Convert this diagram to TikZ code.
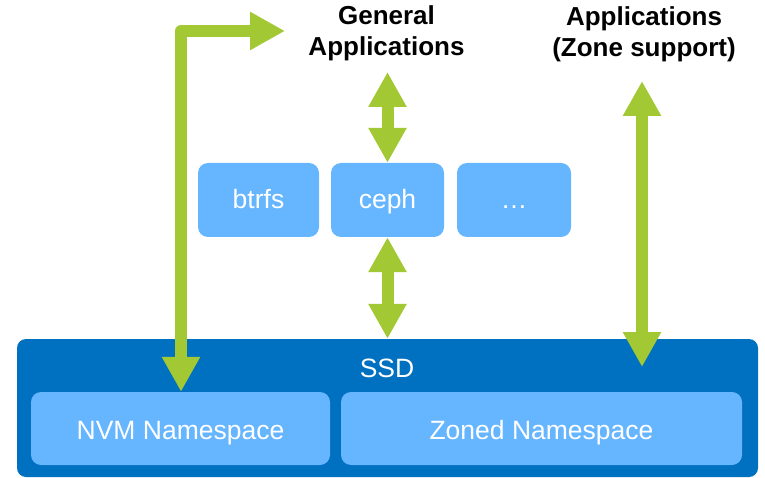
\documentclass[tikz,border=0pt]{standalone}
\usepackage{fontspec}
\setmainfont{Liberation Sans}
\usetikzlibrary{arrows.meta,calc}
\definecolor{ssdblue}{RGB}{0,112,192}
\definecolor{nsblue}{RGB}{102,181,255}
\definecolor{flowgreen}{RGB}{162,201,52}
\begin{document}
\begin{tikzpicture}[x=1pt,y=-1pt,
  bodyfont/.style={font=\fontsize{26.5}{31}\selectfont},
  layerbox/.style={fill=nsblue, draw=none, rounded corners=10pt, inner sep=0pt,
    text=white, bodyfont, text depth=0pt},
  fsbox/.style={layerbox, minimum height=74pt, text height=18pt},
  nsbox/.style={layerbox, minimum height=73pt, text height=21pt},
  flowtip/.tip={Triangle[width=36pt,length=35pt]},
  flow/.style={draw=flowgreen, line width=12pt, line join=round, flowtip-flowtip},
  applabel/.style={font=\fontsize{26}{31}\bfseries\selectfont, align=center, inner sep=0pt}]
\useasboundingbox (0,0) rectangle (765,478);

% SSD with its two namespaces
\node[fill=ssdblue, rounded corners=9pt, minimum width=741pt, minimum height=138pt, inner sep=0pt]
  (ssd) at (387.5,408) {};
\node[text=white, bodyfont, inner sep=0pt, anchor=base] (ssdlabel) at (387,377) {SSD};
\node[nsbox, minimum width=299pt] (nvm) at (180.5,428.5) {NVM Namespace};
\node[nsbox, minimum width=401pt] (zns) at (541.5,428.5) {Zoned Namespace};

% file systems
\node[fsbox, minimum width=121pt] (btrfs) at (258.5,200) {btrfs};
\node[fsbox, minimum width=113pt] (ceph) at (387.5,200) {ceph};
\node[fsbox, minimum width=114pt] (more) at (514,200) {\dots};

% application labels (base anchor sits on the last line)
\node[applabel, anchor=base] (genapps) at (386.5,56) {General\\Applications};
\node[applabel, anchor=base] (zoneapps) at (644,57) {Applications\\(Zone support)};

% data paths
\coordinate (genin) at (285,31);
\coordinate (bend) at (181,31);
\coordinate (genbottom) at (387.5,72);
\coordinate (zonetop) at (642,81);
\coordinate (zonebottom) at (642,367);

\draw[flow] (genin) -- (bend) -- (bend |- nvm.north);
\draw[flow] (genbottom) -- (ceph.north);
\draw[flow] (ceph.south) -- (ceph.south |- ssd.north);
\draw[flow] (zonetop) -- (zonebottom);
\end{tikzpicture}
\end{document}
